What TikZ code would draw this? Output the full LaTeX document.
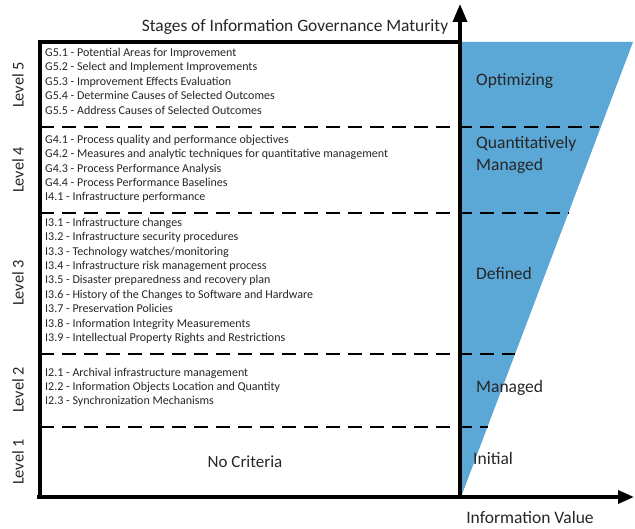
\documentclass[tikz,border=0pt]{standalone}
\usepackage{fontspec}
\setmainfont{Carlito}
\usetikzlibrary{arrows.meta}
\definecolor{valueblue}{RGB}{91,167,213}
\tikzset{
  item/.style={anchor=mid west,inner sep=0pt,text=black!85,font=\fontsize{12}{14}\selectfont},
  levellabel/.style={rotate=90,inner sep=0pt,text=black!85,font=\fontsize{16.3}{19}\selectfont},
  stagelabel/.style={anchor=mid west,inner sep=0pt,text=black!85,align=left,font=\fontsize{17.5}{22}\selectfont},
  border/.style={line width=3.5pt},
  divider/.style={line width=2.8pt,dash pattern=on 14pt off 8pt},
}
\begin{document}
\begin{tikzpicture}[x=1pt,y=-1pt]
\useasboundingbox (0,0) rectangle (635,529);
\coordinate (origin) at (460,497);
\coordinate (ytop) at (460,4);
\coordinate (axisstart) at (37,497);
\coordinate (xend) at (634,497);
\coordinate (boxbl) at (40,497);
\coordinate (boxtl) at (40,42);
\coordinate (boxtr) at (460,42);
% information value wedge
\fill[valueblue] (462,42) -- (633,42) -- (461,497) -- cycle;
% level dividers
\foreach \y/\xe in {127/599,213/569,354/515,427/488}
  \draw[divider] (40,\y) -- (\xe,\y);
% frame and axes
\draw[border] (boxbl) -- (boxtl) -- (boxtr);
\draw[border,-{Triangle[length=18pt,width=14pt]}] (origin) -- (ytop);
\draw[border,-{Triangle[length=16pt,width=13pt]}] (axisstart) -- (xend);
\node[font=\fontsize{17.4}{20}\selectfont,text=black!85] (title) at (295,27) {Stages of Information Governance Maturity};
\node[font=\fontsize{17.5}{20}\selectfont,text=black!85] (xlabel) at (530,517) {Information Value};
% levels
\node[levellabel] (lv5) at (18,85) {Level 5};
\node[levellabel] (lv4) at (18,170) {Level 4};
\node[levellabel] (lv3) at (18,283) {Level 3};
\node[levellabel] (lv2) at (18,390) {Level 2};
\node[levellabel] (lv1) at (18,462) {Level 1};
% criteria
\foreach \t [count=\i] in {G5.1 - Potential Areas for Improvement,
    G5.2 - Select and Implement Improvements,
    G5.3 - Improvement Effects Evaluation,
    G5.4 - Determine Causes of Selected Outcomes,
    G5.5 - Address Causes of Selected Outcomes}
  \node[item] (g5-\i) at (45,{54+14.5*(\i-1)}) {\t};
\foreach \t [count=\i] in {G4.1 - Process quality and performance objectives,
    G4.2 - Measures and analytic techniques for quantitative management,
    G4.3 - Process Performance Analysis,
    G4.4 - Process Performance Baselines,
    I4.1 - Infrastructure performance}
  \node[item] (g4-\i) at (45,{141+14.4*(\i-1)}) {\t};
\foreach \t [count=\i] in {I3.1 - Infrastructure changes,
    I3.2 - Infrastructure security procedures,
    I3.3 - Technology watches/monitoring,
    I3.4 - Infrastructure risk management process,
    I3.5 - Disaster preparedness and recovery plan,
    I3.6 - History of the Changes to Software and Hardware,
    I3.7 - Preservation Policies,
    I3.8 - Information Integrity Measurements,
    I3.9 - Intellectual Property Rights and Restrictions}
  \node[item] (i3-\i) at (45,{224+14.4*(\i-1)}) {\t};
\foreach \t [count=\i] in {I2.1 - Archival infrastructure management,
    I2.2 - Information Objects Location and Quantity,
    I2.3 - Synchronization Mechanisms}
  \node[item] (i2-\i) at (45,{374+14*(\i-1)}) {\t};
\node[font=\fontsize{17}{20}\selectfont,text=black!85] (nocrit) at (245,462) {No Criteria};
% maturity stages
\node[stagelabel] (optim) at (476,83) {Optimizing};
\node[stagelabel] (quant) at (476,168) {Quantitatively\\Managed};
\node[stagelabel] (defin) at (476,277) {Defined};
\node[stagelabel] (manag) at (476,390) {Managed};
\node[stagelabel] (initl) at (473,462) {Initial};
\end{tikzpicture}
\end{document}
